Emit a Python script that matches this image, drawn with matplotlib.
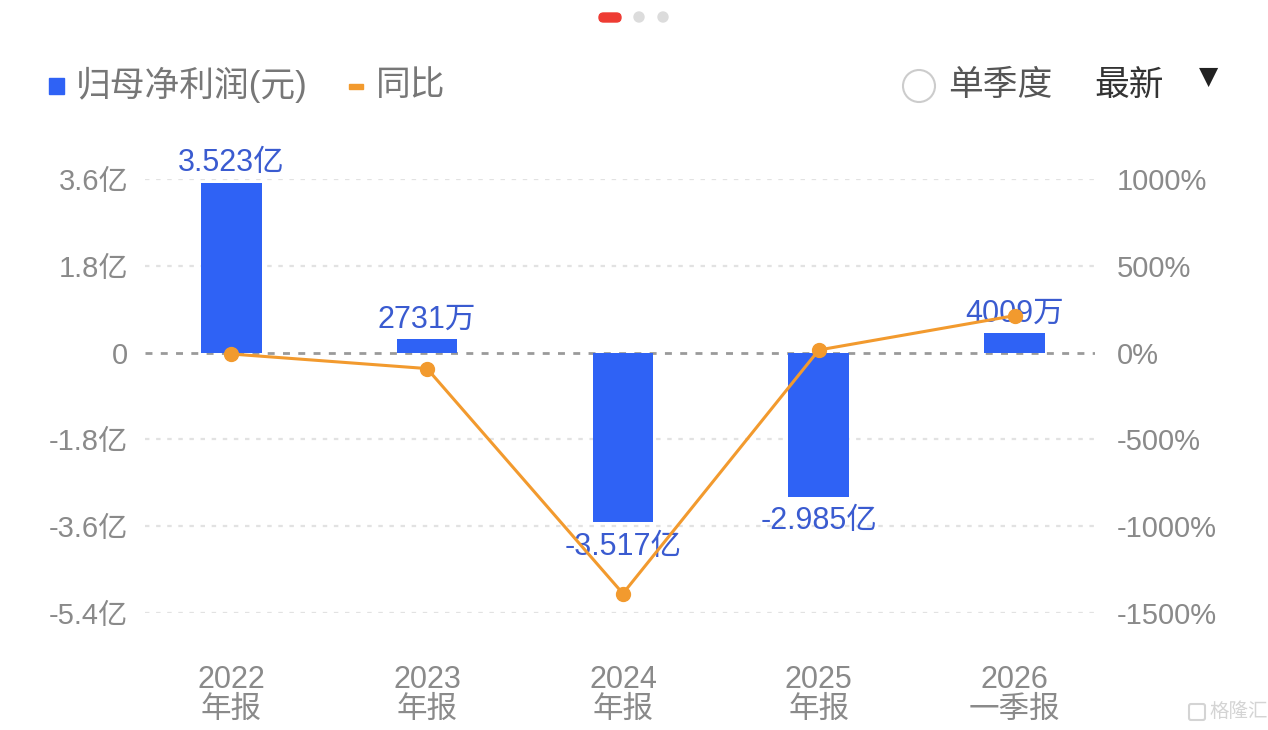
import matplotlib
matplotlib.use('Agg')
import matplotlib.pyplot as plt
from matplotlib.patches import FancyBboxPatch, Circle, Rectangle
from matplotlib.transforms import IdentityTransform

plt.rcParams['font.family'] = ['Liberation Sans', 'Noto Sans CJK SC', 'DejaVu Sans']

# --- data ---
years = ['2022', '2023', '2024', '2025', '2026']
report = ['年报', '年报', '年报', '年报', '一季报']
profit = [3.523, 0.2731, -3.517, -2.985, 0.4009]        # 亿元
profit_labels = ['3.523亿', '2731万', '-3.517亿', '-2.985亿', '4009万']
yoy = [-8, -92, -1388, 15, 213]                          # %
left_ticks = [3.6, 1.8, 0, -1.8, -3.6, -5.4]
left_ticklabels = ['3.6亿', '1.8亿', '0', '-1.8亿', '-3.6亿', '-5.4亿']
right_ticks = [1000, 500, 0, -500, -1000, -1500]
right_ticklabels = ['1000%', '500%', '0%', '-500%', '-1000%', '-1500%']

BLUE = '#2F62F5'
LBLUE = '#3A5BD0'
ORANGE = '#F29A2E'
GRAY = '#8a8a8a'

W, H = 1268, 730
fig = plt.figure(figsize=(W / 100, H / 100), dpi=100)
ax = fig.add_axes([145 / W, (H - 613) / H, 950 / W, 434 / H])
ax.set_xlim(-0.44, 4.41)
ax.set_ylim(-5.4, 3.6)
for s in ax.spines.values(): s.set_visible(False)

x = list(range(len(years)))
for t in left_ticks:
    if t == 0:
        ax.axhline(0, color='#9a9a9a', lw=2, ls=(0, (2.5, 3)), zorder=1)
    else:
        ax.axhline(t, color='#e2e2e2', lw=1.6, ls=(0, (2, 3)), zorder=1)

ax.bar(x, profit, width=0.31, color=BLUE, zorder=2)
for i, (v, lab) in enumerate(zip(profit, profit_labels)):
    off = 0.1 if v >= 0 else -0.2
    ax.text(i, v + off, lab, ha='center', va='bottom' if v >= 0 else 'top',
            fontsize=22, color=LBLUE, zorder=5)

ax.set_yticks(left_ticks)
ax.set_yticklabels(left_ticklabels)
ax.tick_params(axis='y', length=0, pad=12, labelsize=21, labelcolor=GRAY)
ax.set_xticks([])
xt = ax.get_xaxis_transform()
for i in x:
    ax.text(i, -0.1544, years[i], transform=xt, ha='center', va='center',
            fontsize=22, color=GRAY)
    ax.text(i, -0.2235, report[i], transform=xt, ha='center', va='center',
            fontsize=22, color=GRAY)

ax2 = ax.twinx()
ax2.set_ylim(-1500, 1000)
for s in ax2.spines.values(): s.set_visible(False)
ax2.plot(x, yoy, color=ORANGE, lw=2.2, marker='o', ms=10, zorder=4)
ax2.set_yticks(right_ticks)
ax2.set_yticklabels(right_ticklabels)
ax2.tick_params(axis='y', length=0, pad=16, labelsize=21, labelcolor=GRAY)

# --- header (pixel coordinates, origin bottom-left) ---
px = IdentityTransform()
fig.patches.append(FancyBboxPatch((599, H - 22), 22, 9, boxstyle='round,pad=0,rounding_size=4.5',
                                  transform=px, color='#EE3B33'))
for cx in (639, 663):
    fig.patches.append(Circle((cx, H - 17), 5, transform=px, color='#dcdcdc'))

fig.patches.append(Rectangle((49, H - 94), 15, 16, transform=px, color=BLUE))
fig.text(76 / W, (H - 85) / H, '归母净利润(元)', fontsize=25, color='#777777', va='center')
fig.patches.append(Rectangle((349, H - 89), 14, 5, transform=px, color=ORANGE))
fig.text(376 / W, (H - 85) / H, '同比', fontsize=25, color='#777777', va='center')

fig.patches.append(Circle((919, H - 86), 16, transform=px, fill=False, ec='#cccccc', lw=1.5))
fig.text(948 / W, (H - 85) / H, '单季度', fontsize=25, color='#555555', va='center')
fig.text(1094 / W, (H - 85) / H, '最新', fontsize=25, color='#333333', va='center')
fig.text(1209 / W, (H - 77) / H, '▼', fontsize=18, color='#222222', va='center', ha='center',
         family=['DejaVu Sans'])

# watermark
fig.patches.append(FancyBboxPatch((1189, H - 720), 16, 16, boxstyle='round,pad=0,rounding_size=2',
                                  transform=px, fill=False, ec='#d4d4d4', lw=1.5))
fig.text(1209 / W, (H - 712) / H, '格隆汇', fontsize=14, color='#d4d4d4', va='center')

fig.savefig('out.png', dpi=100)
